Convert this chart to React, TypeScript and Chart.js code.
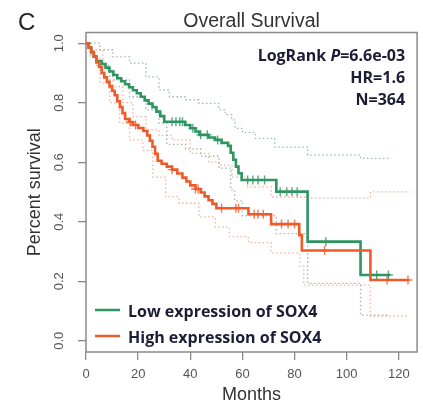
import React, { useEffect, useRef } from "react";
import { Chart, registerables } from "chart.js";
Chart.register(...registerables);

// ---- axis ticks ----
const xTicks = [0, 20, 40, 60, 80, 100, 120];
const yTicks = [0, 0.2, 0.4, 0.6, 0.8, 1.0];

// ---- Low expression of SOX4 (Kaplan-Meier steps: time of drop, value after drop) ----
const lowTime = [0, 1, 2, 3, 4, 6, 7.5, 9, 10.5, 12, 13.5, 15, 16.5, 18, 19.5, 21, 22.5, 24, 25.5, 27, 28.5, 30, 38, 40, 42, 43.5, 47, 49.5, 52, 54.5, 55.5, 56.5, 57.5, 58.5, 59.7, 73, 85, 105.3, 116.7];
const lowSurv = [1.0, 0.985, 0.97, 0.955, 0.94, 0.93, 0.918, 0.905, 0.893, 0.882, 0.872, 0.862, 0.852, 0.842, 0.832, 0.82, 0.808, 0.797, 0.785, 0.77, 0.755, 0.736, 0.725, 0.714, 0.703, 0.692, 0.683, 0.675, 0.665, 0.655, 0.632, 0.608, 0.585, 0.563, 0.54, 0.501, 0.333, 0.221, 0.221];
const lowCensor = [33, 34.5, 36, 37, 41, 44, 46.5, 50.5, 62, 64, 66, 68.5, 74.5, 77, 79, 81, 92, 111.5, 116];

const lowUpperTime = [0, 2, 5.3, 10.3, 16.7, 23, 28, 32, 38, 43.3, 50.9, 53.5, 55.9, 57.2, 60, 65, 72.4, 85, 105.3, 116.7];
const lowUpperSurv = [1.0, 1.0, 0.978, 0.954, 0.933, 0.887, 0.843, 0.82, 0.81, 0.798, 0.776, 0.76, 0.742, 0.714, 0.7, 0.68, 0.651, 0.624, 0.613, 0.613];
const lowLowerTime = [0, 2, 4, 9.1, 16.7, 23, 28, 31, 38.2, 44, 51, 55.5, 57, 60, 73, 85, 105.3, 116.7];
const lowLowerSurv = [1.0, 0.96, 0.925, 0.877, 0.82, 0.776, 0.731, 0.66, 0.645, 0.62, 0.58, 0.507, 0.47, 0.42, 0.36, 0.193, 0.086, 0.086];

// ---- High expression of SOX4 ----
const highTime = [0, 1, 2, 3, 4, 5, 6, 7, 8, 9, 10, 11, 12, 13, 14, 15, 16.5, 18, 20, 22, 23.5, 24.5, 25.5, 26.5, 27.5, 29, 31, 33, 35, 37, 38.5, 40, 42, 44, 45.5, 47, 48.5, 50, 62.3, 71, 81.8, 82.8, 109.1, 124];
const highSurv = [1.0, 0.985, 0.97, 0.955, 0.935, 0.92, 0.9, 0.885, 0.87, 0.855, 0.84, 0.825, 0.805, 0.785, 0.765, 0.745, 0.735, 0.725, 0.715, 0.705, 0.69, 0.672, 0.652, 0.628, 0.605, 0.595, 0.585, 0.575, 0.562, 0.548, 0.535, 0.522, 0.51, 0.498, 0.485, 0.472, 0.46, 0.445, 0.425, 0.392, 0.355, 0.303, 0.204, 0.204];
const highCensor = [17, 19, 33, 42, 43, 52, 57.5, 58.5, 64.5, 66, 68, 75, 77.5, 80, 91.5, 115.5, 123.5];

const highUpperTime = [0, 1.5, 6.5, 10.3, 14.1, 18, 23, 28, 33, 40, 47, 51, 56, 62, 71, 85, 109.1, 124];
const highUpperSurv = [1.0, 0.978, 0.91, 0.854, 0.8, 0.753, 0.709, 0.69, 0.675, 0.63, 0.6, 0.59, 0.55, 0.517, 0.483, 0.479, 0.5, 0.5];
const highLowerTime = [0, 1.5, 5.3, 9.1, 12.9, 16.7, 21.8, 25.6, 30.6, 35.7, 43.3, 49.6, 55, 62.3, 71, 82, 83.5, 109.1, 124];
const highLowerSurv = [1.0, 0.954, 0.866, 0.8, 0.731, 0.675, 0.64, 0.55, 0.484, 0.462, 0.416, 0.382, 0.35, 0.33, 0.295, 0.25, 0.187, 0.083, 0.083];

const titleText = "Overall Survival";
const legendLabels = ["Low expression of SOX4", "High expression of SOX4"];
const statLines = ["LogRank P=6.6e-03", "HR=1.6", "N=364"];

const GREEN = "#2e9561";
const ORANGE = "#f05a28";
const GREEN_CI = "rgba(110,170,135,0.75)";
const ORANGE_CI = "rgba(245,150,120,0.75)";
const TEXT_DARK = "#1c1c36";
const SANS = '"Liberation Sans", Arial, sans-serif';
const HUMAN = '"Open Sans", Lato, sans-serif';

function toXY(t: number[], s: number[]) {
  return t.map((x, i) => ({ x, y: s[i] }));
}
function stepAt(t: number[], s: number[], x: number) {
  let v = s[0];
  for (let i = 0; i < t.length; i++) if (t[i] <= x) v = s[i];
  return v;
}

const overlayPlugin = {
  id: "overlay",
  beforeDatasetsDraw(chart: any) {
    const { ctx, chartArea: a } = chart;
    ctx.save();
    ctx.strokeStyle = "#8a8a8a";
    ctx.lineWidth = 1.5;
    ctx.strokeRect(a.left, a.top, a.right - a.left, a.bottom - a.top);
    ctx.restore();
  },
  afterDraw(chart: any) {
    const { ctx, chartArea: a } = chart;
    ctx.save();
    ctx.textBaseline = "alphabetic";
    // panel letter
    ctx.fillStyle = "#222";
    ctx.font = "24px " + SANS;
    ctx.textAlign = "left";
    ctx.fillText("C", 18, 30);

    // title centred over the plot area
    ctx.fillStyle = "#333";
    ctx.font = "19.5px " + SANS;
    ctx.textAlign = "center";
    ctx.fillText(titleText, (a.left + a.right) / 2, a.top - 6);

    // statistics
    ctx.fillStyle = TEXT_DARK;
    const bold = "bold 16px " + HUMAN;
    const boldIt = "italic bold 16px " + HUMAN;
    const rx = a.right - 12;
    const base = [a.top + 28, a.top + 50.5, a.top + 72.5];
    const l1a = "LogRank ", l1b = "P", l1c = statLines[0].slice(9);
    ctx.font = bold;
    const wA = ctx.measureText(l1a).width;
    const wC = ctx.measureText(l1c).width;
    ctx.font = boldIt;
    const wB = ctx.measureText(l1b).width;
    const x0 = rx - (wA + wB + wC);
    ctx.textAlign = "left";
    ctx.font = bold;
    ctx.fillText(l1a, x0, base[0]);
    ctx.font = boldIt;
    ctx.fillText(l1b, x0 + wA, base[0]);
    ctx.font = bold;
    ctx.fillText(l1c, x0 + wA + wB, base[0]);
    ctx.textAlign = "right";
    ctx.fillText(statLines[1], rx, base[1]);
    ctx.fillText(statLines[2], rx, base[2]);

    // legend
    const cols = [GREEN, ORANGE];
    const ly = [a.bottom - 42, a.bottom - 16];
    ctx.textAlign = "left";
    ctx.font = "bold 16px " + HUMAN;
    for (let i = 0; i < 2; i++) {
      ctx.strokeStyle = cols[i];
      ctx.lineWidth = 2.5;
      ctx.beginPath();
      ctx.moveTo(a.left + 9, ly[i]);
      ctx.lineTo(a.left + 34, ly[i]);
      ctx.stroke();
      ctx.fillStyle = TEXT_DARK;
      ctx.fillText(legendLabels[i], a.left + 42, ly[i] + 6.5);
    }
    ctx.restore();
  },
};

export default function App() {
  const ref = useRef<HTMLCanvasElement | null>(null);
  useEffect(() => {
    if (!ref.current) return;
    const ciStyle = (color: string) => ({
      borderColor: color,
      borderWidth: 1.3,
      borderDash: [1.5, 2.5],
      pointRadius: 0,
      stepped: true,
      fill: false,
      order: 3,
    });
    const cross = (color: string) => ({
      showLine: false,
      pointStyle: "cross",
      pointRadius: 4.5,
      pointBorderWidth: 1.4,
      pointBorderColor: color,
      borderColor: color,
      order: 0,
    });
    const chart = new Chart(ref.current, {
      type: "line",
      data: {
        datasets: [
          { label: "low upper", data: toXY(lowUpperTime, lowUpperSurv), ...ciStyle(GREEN_CI) },
          { label: "low lower", data: toXY(lowLowerTime, lowLowerSurv), ...ciStyle(GREEN_CI) },
          { label: "high upper", data: toXY(highUpperTime, highUpperSurv), ...ciStyle(ORANGE_CI) },
          { label: "high lower", data: toXY(highLowerTime, highLowerSurv), ...ciStyle(ORANGE_CI) },
          {
            label: legendLabels[0],
            data: toXY(lowTime, lowSurv),
            borderColor: GREEN,
            borderWidth: 2.6,
            pointRadius: 0,
            stepped: true,
            order: 2,
          },
          {
            label: legendLabels[1],
            data: toXY(highTime, highSurv),
            borderColor: ORANGE,
            borderWidth: 2.6,
            pointRadius: 0,
            stepped: true,
            order: 1,
          },
          {
            label: "low censored",
            data: lowCensor.map((x) => ({ x, y: stepAt(lowTime, lowSurv, x) })),
            ...cross("rgba(46,149,97,0.8)"),
          },
          {
            label: "high censored",
            data: highCensor.map((x) => ({ x, y: stepAt(highTime, highSurv, x) })),
            ...cross("rgba(240,90,40,0.8)"),
          },
        ],
      },
      options: {
        responsive: false,
        animation: false,
        events: [],
        layout: { padding: { left: 0, right: 2.5, top: 32.5, bottom: 0 } },
        plugins: {
          legend: { display: false },
          tooltip: { enabled: false },
          title: { display: false },
        },
        scales: {
          x: {
            type: "linear",
            min: 0,
            max: 127,
            afterBuildTicks: (s: any) => {
              s.ticks = xTicks.map((v) => ({ value: v }));
            },
            afterFit: (s: any) => {
              s.height = 57;
            },
            grid: { drawOnChartArea: false, drawTicks: true, tickLength: 8, color: "#8a8a8a", lineWidth: 1.3 },
            border: { display: false },
            ticks: {
              color: "#555",
              padding: 7,
              maxRotation: 0,
              font: { family: SANS, size: 13 },
              callback: (v: any) => String(v),
            },
            title: {
              display: true,
              text: "Months",
              color: "#333",
              font: { family: SANS, size: 18 },
              padding: { top: 0, bottom: 3 },
            },
          },
          y: {
            type: "linear",
            min: -0.038,
            max: 1.036,
            afterBuildTicks: (s: any) => {
              s.ticks = yTicks.map((v) => ({ value: v }));
            },
            afterFit: (s: any) => {
              s.width = 86;
            },
            grid: { drawOnChartArea: false, drawTicks: true, tickLength: 8, color: "#8a8a8a", lineWidth: 1.3 },
            border: { display: false },
            ticks: {
              color: "#555",
              padding: 10,
              minRotation: 90,
              maxRotation: 90,
              crossAlign: "center",
              font: { family: SANS, size: 13 },
              callback: (v: any) => Number(v).toFixed(1),
            },
            title: {
              display: true,
              text: "Percent survival",
              color: "#333",
              font: { family: SANS, size: 18 },
              padding: { top: 24, bottom: 0 },
            },
          },
        },
      },
      plugins: [overlayPlugin],
    } as any);
    return () => chart.destroy();
  }, []);
  return (
    <div style={{ position: "absolute", left: 0, top: 0, width: 423, height: 409, background: "#fff" }}>
      <canvas ref={ref} width={423} height={409} style={{ display: "block" }} />
    </div>
  );
}
